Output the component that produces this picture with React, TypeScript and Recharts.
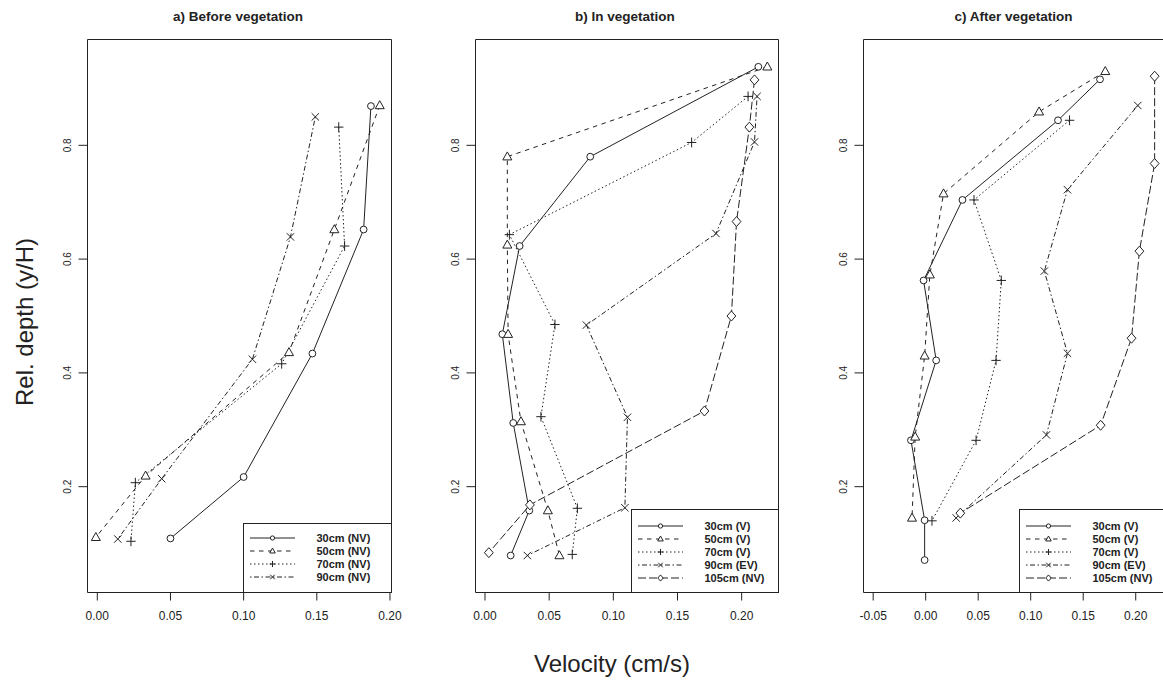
import React from 'react';
import { LineChart, Line, XAxis, YAxis, ReferenceArea, Legend } from 'recharts';

// ---------------- data ----------------
const depthTicks = [0.2, 0.4, 0.6, 0.8];
const depthTickLabels = ['0.2', '0.4', '0.6', '0.8'];
const velTicksAB = [0, 0.05, 0.1, 0.15, 0.2];
const velTickLabelsAB = ['0.00', '0.05', '0.10', '0.15', '0.20'];
const velTicksC = [-0.05, 0, 0.05, 0.1, 0.15, 0.2];
const velTickLabelsC = ['-0.05', '0.00', '0.05', '0.10', '0.15', '0.20'];

const panelTitles = ['a) Before vegetation', 'b) In vegetation', 'c) After vegetation'];
const legendA = ['30cm (NV)', '50cm (NV)', '70cm (NV)', '90cm (NV)'];
const legendBC = ['30cm (V)', '50cm (V)', '70cm (V)', '90cm (EV)', '105cm (NV)'];
const yAxisTitle = 'Rel. depth (y/H)';
const xAxisTitle = 'Velocity (cm/s)';

// a) Before vegetation
const aVel30 = [0.187, 0.182, 0.147, 0.1, 0.05];
const aDep30 = [0.869, 0.652, 0.434, 0.217, 0.109];
const aVel50 = [0.193, 0.162, 0.131, 0.033, -0.001];
const aDep50 = [0.87, 0.652, 0.436, 0.219, 0.111];
const aVel70 = [0.165, 0.169, 0.126, 0.026, 0.023];
const aDep70 = [0.832, 0.623, 0.416, 0.207, 0.104];
const aVel90 = [0.149, 0.132, 0.106, 0.044, 0.014];
const aDep90 = [0.85, 0.639, 0.424, 0.214, 0.108];

// b) In vegetation
const bVel30 = [0.213, 0.082, 0.027, 0.0135, 0.022, 0.0345, 0.02];
const bDep30 = [0.938, 0.78, 0.623, 0.468, 0.312, 0.158, 0.079];
const bVel50 = [0.22, 0.0174, 0.0174, 0.018, 0.028, 0.049, 0.058];
const bDep50 = [0.938, 0.78, 0.625, 0.468, 0.3145, 0.158, 0.079];
const bVel70 = [0.205, 0.161, 0.019, 0.0545, 0.0436, 0.072, 0.068];
const bDep70 = [0.886, 0.805, 0.643, 0.485, 0.323, 0.162, 0.081];
const bVel90 = [0.212, 0.21, 0.18, 0.079, 0.111, 0.109, 0.033];
const bDep90 = [0.886, 0.806, 0.645, 0.484, 0.322, 0.163, 0.079];
const bVel105 = [0.21, 0.206, 0.196, 0.192, 0.171, 0.035, 0.003];
const bDep105 = [0.915, 0.832, 0.666, 0.5, 0.333, 0.168, 0.084];

// c) After vegetation
const cVel30 = [0.166, 0.126, 0.035, -0.002, 0.01, -0.014, -0.001, -0.001];
const cDep30 = [0.916, 0.844, 0.704, 0.5625, 0.422, 0.2815, 0.141, 0.071];
const cVel50 = [0.171, 0.108, 0.017, 0.004, -0.001, -0.01, -0.013];
const cDep50 = [0.93, 0.859, 0.715, 0.5725, 0.43, 0.2875, 0.145];
const cVel70 = [0.137, 0.046, 0.072, 0.067, 0.048, 0.006];
const cDep70 = [0.844, 0.704, 0.5625, 0.422, 0.2815, 0.14];
const cVel90 = [0.202, 0.135, 0.113, 0.135, 0.115, 0.029];
const cDep90 = [0.87, 0.722, 0.579, 0.4345, 0.291, 0.145];
const cVel105 = [0.218, 0.218, 0.2035, 0.196, 0.1666, 0.033];
const cDep105 = [0.9215, 0.768, 0.614, 0.461, 0.308, 0.1535];

// ---------------- styling ----------------
const FONT = '"Liberation Sans", Arial, Helvetica, sans-serif';
const INK = '#222';
type Mk = 'circle' | 'triangle' | 'plus' | 'cross' | 'diamond';
const styles: { dash?: string; mk: Mk }[] = [
  { dash: undefined, mk: 'circle' },
  { dash: '4.5 4.5', mk: 'triangle' },
  { dash: '1.5 2.5', mk: 'plus' },
  { dash: '1.5 2.5 5 2.5', mk: 'cross' },
  { dash: '8 3', mk: 'diamond' },
];

const toRows = (vel: number[], dep: number[]) => vel.map((v, i) => ({ v, d: dep[i] }));

function Marker({ cx, cy, kind, s = 1 }: { cx: number; cy: number; kind: Mk; s?: number }) {
  if (cx == null || cy == null || isNaN(cx) || isNaN(cy)) return null;
  const common = { stroke: INK, strokeWidth: 1, fill: '#fff' };
  if (kind === 'circle') return <circle cx={cx} cy={cy} r={3.4 * s} {...common} />;
  if (kind === 'triangle')
    return (
      <polygon
        points={`${cx},${cy - 4.8 * s} ${cx - 4.5 * s},${cy + 3.2 * s} ${cx + 4.5 * s},${cy + 3.2 * s}`}
        {...common}
      />
    );
  if (kind === 'plus')
    return (
      <g stroke={INK} strokeWidth={1}>
        <line x1={cx - 4.7 * s} y1={cy} x2={cx + 4.7 * s} y2={cy} />
        <line x1={cx} y1={cy - 4.9 * s} x2={cx} y2={cy + 4.9 * s} />
      </g>
    );
  if (kind === 'cross')
    return (
      <g stroke={INK} strokeWidth={1}>
        <line x1={cx - 3.7 * s} y1={cy - 3.7 * s} x2={cx + 3.7 * s} y2={cy + 3.7 * s} />
        <line x1={cx - 3.7 * s} y1={cy + 3.7 * s} x2={cx + 3.7 * s} y2={cy - 3.7 * s} />
      </g>
    );
  return (
    <polygon
      points={`${cx},${cy - 5 * s} ${cx + 4.4 * s},${cy} ${cx},${cy + 5 * s} ${cx - 4.4 * s},${cy}`}
      {...common}
    />
  );
}

type Series = { name: string; vel: number[]; dep: number[] };

function LegendBox({ names, w, h, rows }: { names: string[]; w: number; h: number; rows: number[] }) {
  return (
    <svg width={w} height={h} style={{ display: 'block', overflow: 'visible' }}>
      <rect x={0.5} y={0.5} width={w - 1} height={h - 1} fill="#fff" stroke={INK} strokeWidth={1} />
      {names.map((n, i) => (
        <g key={n}>
          <line
            x1={7}
            x2={52}
            y1={rows[i]}
            y2={rows[i]}
            stroke={INK}
            strokeWidth={1}
            strokeDasharray={styles[i].dash}
          />
          <Marker cx={29.5} cy={rows[i]} kind={styles[i].mk} s={0.62} />
          <text x={73.5} y={rows[i] + 4} fontSize={11} fontWeight="bold" fill={INK} fontFamily={FONT}>
            {n}
          </text>
        </g>
      ))}
    </svg>
  );
}

const PLOT_TOP = 39.5;
const PLOT_BOTTOM = 592.5;
const H = 681;
const Y_DOMAIN: [number, number] = [0.014, 0.986];

function Panel({
  boxLeft,
  boxW,
  xDomain,
  xTicks,
  xLabels,
  series,
  legendNames,
  legend,
}: {
  boxLeft: number;
  boxW: number;
  xDomain: [number, number];
  xTicks: number[];
  xLabels: string[];
  series: Series[];
  legendNames: string[];
  legend: { left: number; top: number; w: number; h: number; rows: number[] };
}) {
  const yAxisW = 60;
  const chartLeft = Math.floor(boxLeft) - yAxisW;
  const mLeft = boxLeft - yAxisW - chartLeft;
  const mRight = 20;
  const W = mLeft + yAxisW + boxW + mRight;
  const xAxisH = 30;
  const margin = { top: PLOT_TOP, right: mRight, left: mLeft, bottom: H - PLOT_BOTTOM - xAxisH };
  const boxLeftLocal = boxLeft - chartLeft;

  const XTick = (props: any) => {
    const { x, payload } = props;
    const i = xTicks.findIndex((t) => Math.abs(t - payload.value) < 1e-9);
    return (
      <text x={x} y={619.5} textAnchor="middle" fontSize={12} fill={INK} fontFamily={FONT}>
        {i >= 0 ? xLabels[i] : String(payload.value)}
      </text>
    );
  };
  const YTick = (props: any) => {
    const { y, payload } = props;
    const i = depthTicks.findIndex((t) => Math.abs(t - payload.value) < 1e-9);
    const bx = boxLeftLocal - 16;
    return (
      <text
        x={bx}
        y={y}
        transform={`rotate(-90, ${bx}, ${y})`}
        textAnchor="middle"
        fontSize={10}
        fill={INK}
        fontFamily={FONT}
      >
        {i >= 0 ? depthTickLabels[i] : String(payload.value)}
      </text>
    );
  };

  return (
    <div style={{ position: 'absolute', left: chartLeft, top: 0 }}>
      <LineChart width={W} height={H} margin={margin}>
        <XAxis
          type="number"
          dataKey="v"
          domain={xDomain}
          allowDataOverflow
          ticks={xTicks}
          interval={0}
          height={xAxisH}
          axisLine={false}
          tickLine={{ stroke: INK, strokeWidth: 1 }}
          tickSize={8}
          tick={<XTick />}
        />
        <YAxis
          type="number"
          dataKey="d"
          domain={Y_DOMAIN}
          allowDataOverflow
          ticks={depthTicks}
          interval={0}
          width={yAxisW}
          axisLine={false}
          tickLine={{ stroke: INK, strokeWidth: 1 }}
          tickSize={9}
          tick={<YTick />}
        />
        <ReferenceArea
          x1={xDomain[0]}
          x2={xDomain[1]}
          y1={Y_DOMAIN[0]}
          y2={Y_DOMAIN[1]}
          fill="none"
          fillOpacity={0}
          stroke={INK}
          strokeWidth={1}
          strokeOpacity={1}
          ifOverflow="visible"
        />
        {series.map((s, si) => (
          <Line
            key={s.name}
            data={toRows(s.vel, s.dep)}
            dataKey="d"
            name={s.name}
            type="linear"
            stroke={INK}
            strokeWidth={1}
            strokeDasharray={styles[si].dash}
            isAnimationActive={false}
            activeDot={false}
            dot={(p: any) => (
              <Marker key={`${s.name}-${p.index}`} cx={p.cx} cy={p.cy} kind={styles[si].mk} />
            )}
          />
        ))}
        <Legend
          layout="horizontal"
          verticalAlign="middle"
          align="center"
          wrapperStyle={{
            position: 'absolute',
            left: legend.left - chartLeft,
            top: legend.top,
            width: legend.w,
            height: legend.h,
            margin: 0,
            padding: 0,
          }}
          content={() => <LegendBox names={legendNames} w={legend.w} h={legend.h} rows={legend.rows} />}
        />
      </LineChart>
    </div>
  );
}

const seriesA: Series[] = [
  { name: legendA[0], vel: aVel30, dep: aDep30 },
  { name: legendA[1], vel: aVel50, dep: aDep50 },
  { name: legendA[2], vel: aVel70, dep: aDep70 },
  { name: legendA[3], vel: aVel90, dep: aDep90 },
];
const seriesB: Series[] = [
  { name: legendBC[0], vel: bVel30, dep: bDep30 },
  { name: legendBC[1], vel: bVel50, dep: bDep50 },
  { name: legendBC[2], vel: bVel70, dep: bDep70 },
  { name: legendBC[3], vel: bVel90, dep: bDep90 },
  { name: legendBC[4], vel: bVel105, dep: bDep105 },
];
const seriesC: Series[] = [
  { name: legendBC[0], vel: cVel30, dep: cDep30 },
  { name: legendBC[1], vel: cVel50, dep: cDep50 },
  { name: legendBC[2], vel: cVel70, dep: cDep70 },
  { name: legendBC[3], vel: cVel90, dep: cDep90 },
  { name: legendBC[4], vel: cVel105, dep: cDep105 },
];

export default function App() {
  return (
    <div
      style={{
        position: 'fixed',
        left: 0,
        top: 0,
        width: 1163,
        height: 681,
        overflow: 'hidden',
        background: '#fff',
      }}
    >
      <svg
        width={1163}
        height={681}
        style={{ position: 'absolute', left: 0, top: 0, pointerEvents: 'none' }}
      >
        <text x={238} y={20.5} textAnchor="middle" fontSize={13.5} fontWeight="bold" fill={INK} fontFamily={FONT}>
          {panelTitles[0]}
        </text>
        <text x={625} y={20.5} textAnchor="middle" fontSize={13.5} fontWeight="bold" fill={INK} fontFamily={FONT}>
          {panelTitles[1]}
        </text>
        <text x={1013.5} y={20.5} textAnchor="middle" fontSize={13.5} fontWeight="bold" fill={INK} fontFamily={FONT}>
          {panelTitles[2]}
        </text>
        <text
          x={33}
          y={322}
          transform="rotate(-90, 33, 322)"
          textAnchor="middle"
          fontSize={24}
          fill={INK}
          fontFamily={FONT}
        >
          {yAxisTitle}
        </text>
        <text x={612} y={672} textAnchor="middle" fontSize={24} fill={INK} fontFamily={FONT}>
          {xAxisTitle}
        </text>
      </svg>
      <Panel
        boxLeft={87.5}
        boxW={304}
        xDomain={[-0.0067, 0.20105]}
        xTicks={velTicksAB}
        xLabels={velTickLabelsAB}
        series={seriesA}
        legendNames={legendA}
        legend={{ left: 243, top: 523, w: 149, h: 70, rows: [15, 28, 41, 54] }}
      />
      <Panel
        boxLeft={475.5}
        boxW={303}
        xDomain={[-0.0074, 0.2287]}
        xTicks={velTicksAB}
        xLabels={velTickLabelsAB}
        series={seriesB}
        legendNames={legendBC}
        legend={{ left: 631, top: 509, w: 148, h: 84, rows: [17, 30, 43, 56, 69] }}
      />
      <Panel
        boxLeft={863.5}
        boxW={303}
        xDomain={[-0.0592, 0.2293]}
        xTicks={velTicksC}
        xLabels={velTickLabelsC}
        series={seriesC}
        legendNames={legendBC}
        legend={{ left: 1019, top: 509, w: 150, h: 84, rows: [17, 30, 43, 56, 69] }}
      />
    </div>
  );
}
